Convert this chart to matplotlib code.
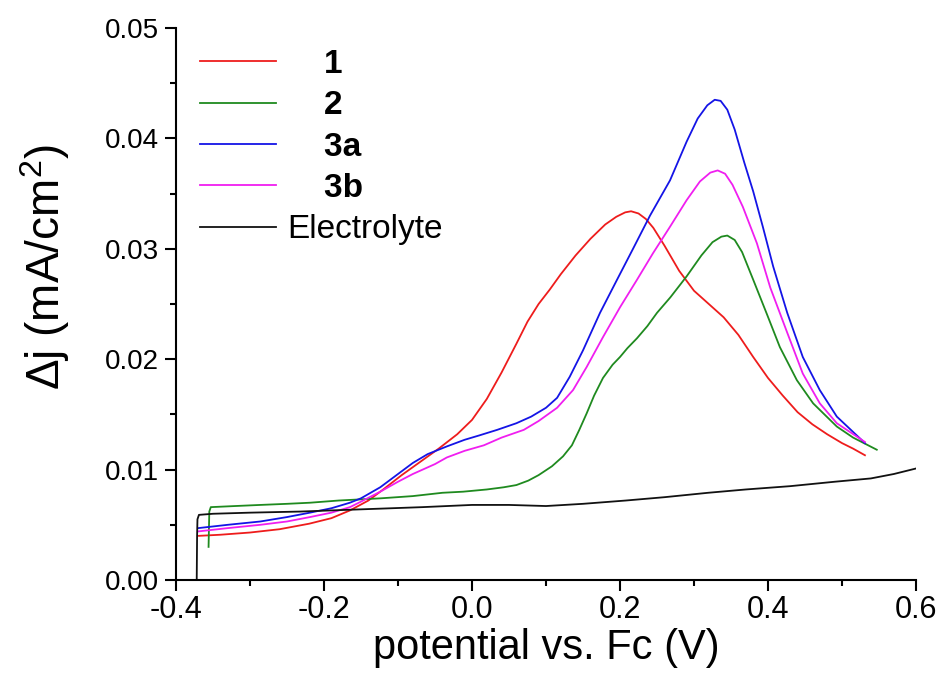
import matplotlib
matplotlib.use("Agg")
import matplotlib.pyplot as plt
from matplotlib.ticker import MultipleLocator, FormatStrFormatter

plt.rcParams['font.family'] = ['Liberation Sans', 'DejaVu Sans']
plt.rcParams['mathtext.fontset'] = 'custom'
plt.rcParams['mathtext.rm'] = 'Liberation Sans'
plt.rcParams['mathtext.default'] = 'regular'
plt.rcParams['axes.unicode_minus'] = False

# ---- data ----
x1 = [-0.369, -0.34, -0.30, -0.26, -0.22, -0.19, -0.165, -0.14, -0.12, -0.095, -0.07, -0.045,
      -0.02, 0.0, 0.02, 0.04, 0.06, 0.075, 0.09, 0.105, 0.12, 0.14, 0.16, 0.18, 0.195, 0.207,
      0.215, 0.225, 0.235, 0.245, 0.26, 0.28, 0.30, 0.32, 0.34, 0.36, 0.38, 0.40, 0.42, 0.44,
      0.46, 0.48, 0.50, 0.515, 0.531]
y1 = [0.0040, 0.0041, 0.0043, 0.0046, 0.0051, 0.0056, 0.0063, 0.0072, 0.0082, 0.0095, 0.0107, 0.0119,
      0.0132, 0.0145, 0.0164, 0.0188, 0.0214, 0.0234, 0.0250, 0.0263, 0.0277, 0.0294, 0.0309, 0.0322,
      0.0329, 0.0333, 0.0334, 0.0332, 0.0327, 0.0319, 0.0303, 0.0280, 0.0262, 0.0250, 0.0238, 0.0222,
      0.0202, 0.0183, 0.0167, 0.0152, 0.0141, 0.0132, 0.0124, 0.0119, 0.0113]

x2 = [-0.356, -0.355, -0.353, -0.32, -0.286, -0.25, -0.219, -0.18, -0.123, -0.08, -0.04, -0.012,
      0.02, 0.043, 0.06, 0.076, 0.09, 0.108, 0.123, 0.135, 0.145, 0.155, 0.165, 0.177, 0.19, 0.20,
      0.21, 0.223, 0.237, 0.25, 0.268, 0.29, 0.31, 0.325, 0.337, 0.345, 0.355, 0.365, 0.38, 0.399,
      0.416, 0.439, 0.461, 0.493, 0.515, 0.547]
y2 = [0.0030, 0.0062, 0.0066, 0.0067, 0.0068, 0.0069, 0.0070, 0.0072, 0.0074, 0.0076, 0.0079, 0.0080,
      0.0082, 0.0084, 0.0086, 0.0090, 0.0095, 0.0103, 0.0112, 0.0122, 0.0136, 0.0151, 0.0167, 0.0183,
      0.0195, 0.0202, 0.0210, 0.0219, 0.0230, 0.0242, 0.0256, 0.0275, 0.0294, 0.0306, 0.0311, 0.0312,
      0.0308, 0.0297, 0.0272, 0.0240, 0.0211, 0.0181, 0.0160, 0.0139, 0.0129, 0.0118]

x3a = [-0.370, -0.33, -0.286, -0.25, -0.219, -0.19, -0.165, -0.15, -0.124, -0.10, -0.08, -0.06,
       -0.034, -0.01, 0.01, 0.034, 0.06, 0.08, 0.10, 0.115, 0.132, 0.15, 0.173, 0.196, 0.2176,
       0.2405, 0.2676, 0.29, 0.305, 0.318, 0.328, 0.336, 0.345, 0.355, 0.368, 0.38, 0.393, 0.407,
       0.426, 0.447, 0.47, 0.493, 0.531]
y3a = [0.0047, 0.0050, 0.0053, 0.0057, 0.0061, 0.0065, 0.0070, 0.0074, 0.0084, 0.0096, 0.0106, 0.0114,
       0.0121, 0.0127, 0.0131, 0.0136, 0.0142, 0.0148, 0.0156, 0.0165, 0.0184, 0.0208, 0.0242, 0.0272,
       0.0300, 0.0330, 0.0362, 0.0397, 0.0418, 0.0430, 0.0435, 0.0434, 0.0426, 0.0408, 0.0378, 0.0352,
       0.0320, 0.0284, 0.0242, 0.0202, 0.0172, 0.0148, 0.0124]

x3b = [-0.370, -0.33, -0.286, -0.25, -0.219, -0.19, -0.165, -0.15, -0.124, -0.10, -0.08, -0.05,
       -0.034, -0.01, 0.016, 0.04, 0.07, 0.09, 0.115, 0.1365, 0.155, 0.177, 0.20, 0.223, 0.2446,
       0.2676, 0.29, 0.308, 0.322, 0.332, 0.342, 0.352, 0.366, 0.385, 0.403, 0.426, 0.447, 0.47,
       0.493, 0.531]
y3b = [0.0044, 0.0047, 0.0050, 0.0053, 0.0057, 0.0061, 0.0066, 0.0071, 0.0080, 0.0089, 0.0096, 0.0105,
       0.0111, 0.0117, 0.0122, 0.0129, 0.0136, 0.0144, 0.0156, 0.0172, 0.0193, 0.0220, 0.0247, 0.0272,
       0.0296, 0.0320, 0.0344, 0.0361, 0.0369, 0.0371, 0.0368, 0.0358, 0.0338, 0.0305, 0.0265, 0.0224,
       0.0187, 0.0160, 0.0142, 0.0125]

xe = [-0.372, -0.3715, -0.371, -0.369, -0.35, -0.30, -0.232, -0.15, -0.067, 0.0, 0.05, 0.10, 0.15,
      0.208, 0.26, 0.319, 0.37, 0.43, 0.49, 0.539, 0.57, 0.60]
ye = [0.0, 0.0040, 0.0055, 0.0059, 0.0060, 0.0061, 0.0062, 0.0064, 0.0066, 0.0068, 0.0068, 0.0067,
      0.0069, 0.0072, 0.0075, 0.0079, 0.0082, 0.0085, 0.0089, 0.0092, 0.0096, 0.0101]

labels = ['1', '2', '3a', '3b', 'Electrolyte']
colors = ['#ee1c1c', '#1f8a1f', '#1414e6', '#f01ef0', '#111111']

# ---- figure ----
fig = plt.figure(figsize=(9.42, 6.82), dpi=100)
ax = fig.add_axes([176/942, 1-580/682, 740/942, 552/682])

series = [(x1, y1), (x2, y2), (x3a, y3a), (x3b, y3b), (xe, ye)]
handles = []
for (xs, ys), c, lab in zip(series, colors, labels):
    h, = ax.plot(xs, ys, color=c, lw=1.3, label=lab)
    handles.append(h)

ax.set_xlim(-0.4, 0.6)
ax.set_ylim(0, 0.05)
ax.xaxis.set_major_locator(MultipleLocator(0.2))
ax.xaxis.set_minor_locator(MultipleLocator(0.1))
ax.yaxis.set_major_locator(MultipleLocator(0.01))
ax.yaxis.set_minor_locator(MultipleLocator(0.005))
ax.xaxis.set_major_formatter(FormatStrFormatter('%.1f'))
ax.yaxis.set_major_formatter(FormatStrFormatter('%.2f'))

for s in ['top', 'right']:
    ax.spines[s].set_visible(False)
for s in ['left', 'bottom']:
    ax.spines[s].set_linewidth(1.5)

ax.tick_params(which='major', direction='out', length=8, width=1.5)
ax.tick_params(which='minor', direction='out', length=4.5, width=1.5)
ax.tick_params(axis='x', which='major', labelsize=22, pad=3)
ax.tick_params(axis='y', which='major', labelsize=20, pad=4)

ax.set_xlabel('potential vs. Fc (V)', fontsize=30, labelpad=2)
ax.set_ylabel('Δj (mA/cm$^{2}$)', fontsize=33)
ax.yaxis.set_label_coords(-0.1405, 0.567)

leg_labels = ['    1', '    2', '    3a', '    3b', 'Electrolyte']
leg = ax.legend(handles, leg_labels, loc='upper left', bbox_to_anchor=(0.0324, 0.962),
                frameon=False, fontsize=24, handlelength=2.28, handletextpad=0.33,
                labelspacing=0.31, borderpad=0, borderaxespad=0)
for t in leg.get_texts()[:4]:
    t.set_fontweight('bold')

fig.savefig('out.png', dpi=100)
